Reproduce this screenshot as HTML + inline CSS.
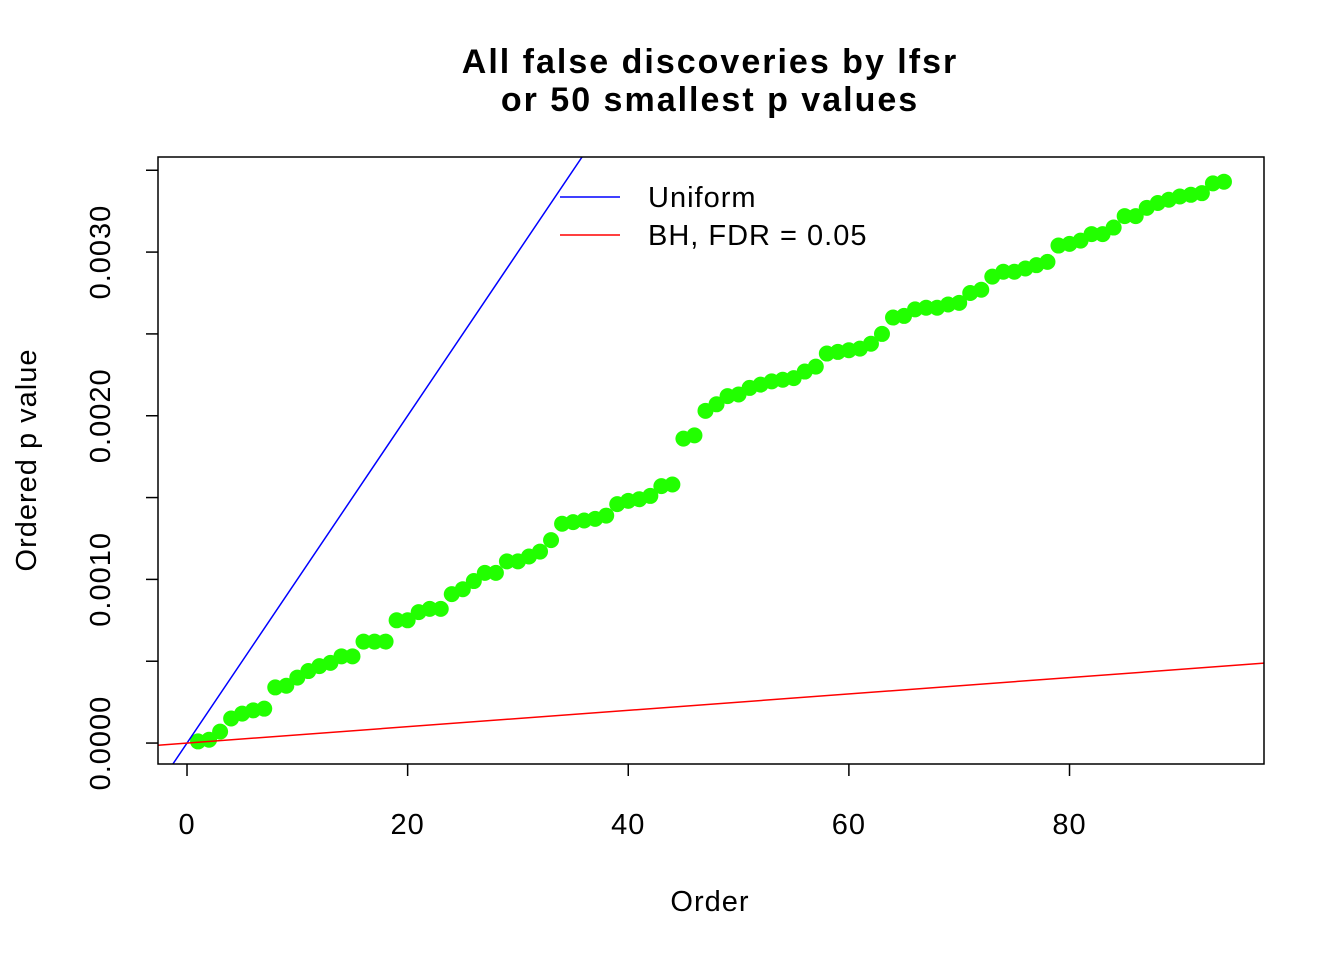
<!DOCTYPE html>
<html><head><meta charset="utf-8"><style>
body{margin:0;background:#fff}
svg{display:block;font-family:"Liberation Sans",Arial,sans-serif}
</style></head><body>
<svg id="chart" width="1344" height="960" viewBox="0 0 1344 960">
<text x="710" y="73" text-anchor="middle" font-size="34" letter-spacing="2" font-weight="bold">All false discoveries by lfsr</text>
<text x="710" y="111" text-anchor="middle" font-size="34" letter-spacing="2" font-weight="bold">or 50 smallest p values</text>
<text x="710" y="911" text-anchor="middle" font-size="29" letter-spacing="1">Order</text>
<text transform="translate(36,460) rotate(-90)" text-anchor="middle" font-size="29" letter-spacing="1">Ordered p value</text>
<g id="marks"></g>
<g id="axes"></g>
<rect x="158" y="157" width="1106" height="607" fill="none" stroke="#000" stroke-width="1.5"/>
<g>
<line x1="560" y1="197" x2="620" y2="197" stroke="#00f" stroke-width="1.5"/>
<text x="648" y="207" font-size="29" letter-spacing="1">Uniform</text>
<line x1="560" y1="235" x2="620" y2="235" stroke="#f00" stroke-width="1.5"/>
<text x="648" y="245" font-size="29" letter-spacing="1">BH, FDR = 0.05</text>
</g>
</svg>
<script>
const pvals=[0.00001,0.00002,0.00007,0.00015,0.00018,0.0002,0.00021,0.00034,0.00035,0.0004,0.00044,0.00047,0.00049,0.00053,0.00053,0.00062,0.00062,0.00062,0.00075,0.00075,0.0008,0.00082,0.00082,0.00091,0.00094,0.00099,0.00104,0.00104,0.00111,0.00111,0.00114,0.00117,0.00124,0.00134,0.00135,0.00136,0.00137,0.00139,0.00146,0.00148,0.00149,0.00151,0.00157,0.00158,0.00186,0.00188,0.00203,0.00207,0.00212,0.00213,0.00217,0.00219,0.00221,0.00222,0.00223,0.00227,0.0023,0.00238,0.00239,0.0024,0.00241,0.00244,0.0025,0.0026,0.00261,0.00265,0.00266,0.00266,0.00268,0.00269,0.00275,0.00277,0.00285,0.00288,0.00288,0.0029,0.00292,0.00294,0.00304,0.00305,0.00307,0.00311,0.00311,0.00315,0.00322,0.00322,0.00327,0.0033,0.00332,0.00334,0.00335,0.00336,0.00342,0.00343];
const xTicks=[0,20,40,60,80];
const yTicks=[0,0.0005,0.001,0.0015,0.002,0.0025,0.003,0.0035];
const yLabels=[0,0.001,0.002,0.003];
const uniformSlope=[0.0001];
const bhFdr=[0.05];
const X0=158,X1=1264,Y0=764,Y1=157,xmin=-2.63,xmax=97.63,ymin=-0.000128,ymax=0.003581;
const sx=v=>X0+(v-xmin)/(xmax-xmin)*(X1-X0);
const sy=v=>Y0-(v-ymin)/(ymax-ymin)*(Y0-Y1);
const NS="http://www.w3.org/2000/svg";
const svg=document.getElementById('chart');
const marks=document.getElementById('marks'),axes=document.getElementById('axes');
const clip=document.createElementNS(NS,'clipPath');clip.setAttribute('id','pc');
const cr=document.createElementNS(NS,'rect');cr.setAttribute('x',X0);cr.setAttribute('y',Y1);cr.setAttribute('width',X1-X0);cr.setAttribute('height',Y0-Y1);
clip.appendChild(cr);svg.appendChild(clip);
marks.setAttribute('clip-path','url(#pc)');
function mk(t,a,p){const e=document.createElementNS(NS,t);for(const k in a)e.setAttribute(k,a[k]);p.appendChild(e);return e;}
function refLine(slope,color,name){
  const l=mk('line',{x1:sx(xmin),y1:sy(slope*xmin),x2:sx(xmax),y2:sy(slope*xmax),stroke:color,'stroke-width':1.5},marks);
  
  
}
pvals.forEach((v,i)=>{
  const c=mk('circle',{cx:sx(i+1),cy:sy(v),r:8,fill:'#22ff00'},marks);
  
  
});
refLine(uniformSlope[0],'#00f','uniform-line');
refLine(uniformSlope[0]*bhFdr[0],'#f00','bh-line');
xTicks.forEach(t=>{
  const l=mk('line',{x1:sx(t),y1:Y0,x2:sx(t),y2:Y0+12,stroke:'#000','stroke-width':1.5},axes);
  
  
  const tx=mk('text',{x:sx(t),y:834,'text-anchor':'middle','font-size':29,'letter-spacing':1},axes);tx.textContent=t;
  
  
});
yTicks.forEach(t=>{
  const l=mk('line',{x1:X0,y1:sy(t),x2:X0-12,y2:sy(t),stroke:'#000','stroke-width':1.5},axes);
  
  
});
yLabels.forEach(t=>{
  const tx=mk('text',{transform:`translate(110,${sy(t)}) rotate(-90)`,'text-anchor':'middle','font-size':29,'letter-spacing':1},axes);tx.textContent=t.toFixed(4);
  
  
});
</script>
</body></html>
